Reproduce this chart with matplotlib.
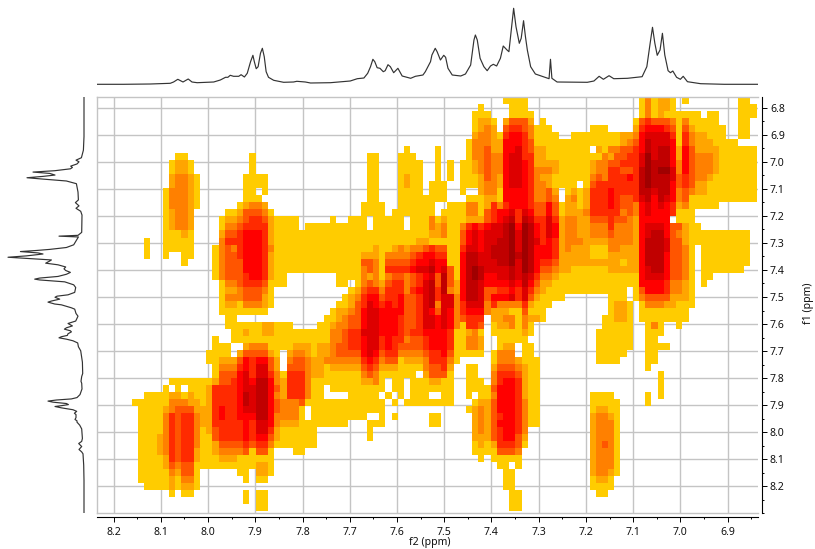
import numpy as np
import matplotlib
matplotlib.use("Agg")
import matplotlib.pyplot as plt
from matplotlib.colors import ListedColormap, BoundaryNorm
from matplotlib.ticker import MultipleLocator, FormatStrFormatter

plt.rcParams['font.family'] = ['Noto Sans', 'DejaVu Sans']

# 1D projection: chemical shift (ppm), height
proj_ppm = [8.30, 8.235, 8.179, 8.122, 8.080, 8.073, 8.064, 8.053, 8.042, 8.034, 8.023, 7.988, 7.974, 7.963, 7.958, 7.953,
            7.946, 7.935, 7.930, 7.923, 7.917, 7.910, 7.905, 7.902, 7.898, 7.894, 7.889, 7.885, 7.881, 7.877, 7.872, 7.861,
            7.840, 7.819, 7.812, 7.794, 7.783, 7.741, 7.699, 7.684, 7.670, 7.662, 7.656, 7.651, 7.647, 7.642, 7.636, 7.629,
            7.625, 7.619, 7.614, 7.607, 7.598, 7.589, 7.571, 7.561, 7.545, 7.540, 7.529, 7.526, 7.519, 7.515, 7.508, 7.501,
            7.497, 7.492, 7.483, 7.465, 7.455, 7.444, 7.437, 7.434, 7.430, 7.424, 7.416, 7.409, 7.402, 7.396, 7.389, 7.381,
            7.375, 7.367, 7.363, 7.358, 7.353, 7.348, 7.341, 7.337, 7.332, 7.328, 7.324, 7.317, 7.307, 7.278, 7.275, 7.272,
            7.261, 7.197, 7.183, 7.172, 7.163, 7.151, 7.141, 7.112, 7.081, 7.071, 7.064, 7.059, 7.054, 7.049, 7.043, 7.038,
            7.033, 7.026, 7.021, 7.016, 7.008, 7.000, 6.994, 6.985, 6.957, 6.907, 6.833, 6.76]
proj_height = [0, 0, 0, 0.3, 1, 2.3, 5, 2.3, 5.3, 2.3, 1.6, 2.3, 4.3, 7, 7, 9,
               8, 8, 9.6, 7.3, 11, 22.6, 29, 22.6, 15.6, 17.6, 31, 36, 27.6, 12.6, 7, 4,
               2, 2.3, 3, 2.3, 1.3, 1.6, 3.3, 5.6, 6.3, 11, 17.6, 25, 22.6, 16.6, 16, 12.6,
               13.6, 19.6, 17.6, 11.6, 16, 8.3, 6, 8, 9.3, 12.6, 22.6, 29.3, 36, 32.6, 24.3, 29,
               27, 16, 9.3, 8.3, 10.3, 19.3, 44.3, 49.3, 44.3, 26, 17.6, 13.6, 18.3, 20, 18.3, 26,
               38.3, 34.3, 32.6, 54.3, 76, 57.6, 41, 46, 63.6, 47.6, 34.3, 17.6, 10.3, 5.6, 25, 6,
               2.3, 2, 3.3, 8, 5, 8.6, 5.6, 6, 7.6, 17.6, 41, 57, 41, 29, 34.3, 51,
               29.3, 13.6, 11.6, 13.3, 7, 5, 8, 2.6, 0.6, 0, 0, 0]

# 2D map, top row first: "column:level" switches along each row (0 = empty)
heat_rows = [
"66:1 70:0 88:1 89:3 90:1 91:2 93:1 94:0 95:1 96:0 104:1 106:0",
"62:1 63:0 67:1 70:0 88:1 89:3 90:1 91:2 93:1 94:0 104:1 107:0",
"61:1 64:0 67:1 71:0 88:1 89:3 90:1 91:2 92:1 98:0 99:1 101:0 104:1 107:0",
"61:1 62:2 64:1 65:0 66:2 67:4 70:2 71:0 72:1 73:0 87:1 88:4 89:5 90:4 93:3 94:1 95:3 96:1 101:0 104:1 106:0",
"61:1 62:2 63:3 64:2 65:0 66:4 67:5 69:4 70:3 71:1 74:0 80:1 83:0 87:2 88:5 89:6 92:5 93:4 94:1 95:4 96:2 97:1 102:0 104:1 106:0",
"61:2 62:3 64:2 65:1 66:5 67:6 69:5 70:3 71:1 75:0 77:1 85:2 87:3 88:6 89:7 93:5 94:1 95:5 96:3 97:2 99:1 102:0 104:1 106:0",
"60:1 61:3 64:2 66:6 69:5 70:4 71:1 85:2 86:3 87:4 88:6 89:8 90:7 93:6 94:1 95:5 96:3 97:2 100:1 104:0",
"50:1 51:0 55:1 56:0 60:1 61:3 63:4 64:2 66:6 68:7 69:5 70:4 71:2 73:1 80:0 81:2 82:1 83:3 85:4 87:5 88:6 89:8 90:7 91:8 93:6 94:2 95:6 96:4 97:2 101:1 107:0",
"13:1 15:0 25:1 26:0 44:1 46:0 49:1 52:0 55:1 56:0 60:1 61:3 63:4 64:3 66:6 67:7 69:5 71:2 73:1 82:3 83:2 84:4 86:5 88:7 89:9 90:7 91:8 93:6 94:2 95:6 96:4 97:3 100:2 101:1 107:0",
"12:1 13:2 15:1 16:0 25:1 26:0 44:1 46:0 49:1 53:0 55:1 56:0 57:1 58:0 59:1 61:2 62:3 63:4 64:3 66:6 67:7 69:6 70:5 71:2 75:1 80:2 81:3 83:4 85:5 88:7 89:9 90:8 93:6 94:3 95:6 96:4 97:3 100:2 101:1 107:0",
"12:1 13:2 15:1 16:0 25:1 26:0 44:1 46:0 49:1 53:0 55:1 56:0 57:1 58:0 59:1 61:2 62:3 63:4 64:3 66:6 67:7 69:6 70:5 71:3 74:2 75:1 80:2 81:3 83:5 85:4 87:5 88:8 89:9 90:8 91:9 93:7 94:3 95:6 96:4 97:3 100:2 101:1 107:0",
"12:2 13:3 15:2 16:1 17:0 24:1 28:0 44:1 46:0 49:1 50:2 51:1 53:0 55:1 56:0 57:1 58:0 59:1 62:2 63:4 64:3 65:2 66:6 67:7 69:6 70:5 71:3 72:2 74:1 80:3 81:4 82:3 83:5 86:6 87:5 88:8 89:9 90:8 93:7 94:4 95:5 96:4 97:3 99:2 100:1 107:0",
"12:2 13:3 15:2 16:1 17:0 24:1 28:0 44:1 46:0 49:1 50:2 51:1 53:0 54:1 57:0 59:1 62:2 63:3 65:2 66:6 67:7 69:6 70:5 71:3 73:2 74:1 78:0 79:1 80:4 81:5 88:8 89:9 90:8 93:6 94:4 95:5 96:4 97:2 99:1 107:0",
"11:1 12:3 15:2 16:1 17:0 24:1 26:0 27:1 28:0 44:1 46:0 49:1 53:0 54:1 57:0 59:1 60:0 62:2 63:3 65:1 66:6 70:5 71:3 73:4 74:2 75:0 76:1 77:2 78:1 79:2 80:5 83:6 84:5 88:8 90:7 91:8 93:6 94:3 95:4 96:3 97:2 99:1 107:0",
"11:1 12:3 15:2 16:1 17:0 24:1 27:0 44:1 46:0 49:1 57:0 60:1 63:2 65:1 66:6 70:5 71:3 73:4 74:3 75:0 76:2 77:3 78:1 79:2 80:5 83:6 84:5 85:4 87:5 88:7 89:8 90:6 91:8 92:7 93:6 94:3 95:4 96:1 107:0",
"11:1 12:3 15:2 16:1 17:0 23:1 24:2 25:3 27:2 28:0 43:1 47:0 49:1 55:0 57:1 60:3 62:1 63:2 64:5 65:3 66:5 67:6 70:5 71:4 73:6 74:4 75:1 76:2 78:1 79:2 80:5 83:6 84:5 85:4 87:3 88:6 89:7 90:6 91:7 92:6 93:5 94:2 95:3 96:1 101:0",
"11:1 12:2 13:3 15:2 16:0 21:1 23:2 24:4 27:3 28:1 29:0 43:1 47:0 48:1 55:0 56:1 60:3 62:1 63:4 64:5 65:6 67:7 68:5 69:7 70:6 71:4 73:6 74:4 75:1 76:2 79:3 80:5 85:3 86:4 87:3 88:6 89:7 90:6 93:5 94:1 97:0",
"11:1 12:2 13:3 15:2 16:0 20:1 21:2 23:3 24:4 25:5 27:4 28:2 29:1 33:0 38:1 39:0 41:1 44:0 45:1 50:0 51:1 54:3 55:1 56:2 57:1 60:2 63:4 64:5 65:6 66:7 67:8 68:5 69:8 70:7 71:5 73:7 74:5 75:2 76:3 78:2 80:4 83:5 84:4 86:3 87:2 88:6 93:0 94:1 97:0",
"11:1 12:2 13:3 15:2 16:0 20:1 21:3 23:4 24:5 27:5 28:2 29:1 33:0 34:1 44:0 45:1 50:0 51:1 54:3 55:2 56:3 57:1 59:3 60:5 61:6 62:5 63:6 64:7 66:8 67:9 68:6 69:9 70:8 71:6 72:5 73:7 74:6 75:2 76:3 78:2 80:3 83:5 84:3 87:2 88:6 89:7 92:6 93:4 95:2 96:1 98:0",
"11:1 14:2 15:1 16:0 20:2 21:4 23:5 24:6 27:5 28:2 29:1 54:2 56:3 57:1 59:4 60:6 61:7 62:6 63:7 66:8 67:9 68:7 69:9 70:8 71:6 72:5 73:7 74:6 75:2 76:3 78:2 80:3 83:4 84:3 87:2 88:6 89:7 90:8 92:6 93:4 94:3 95:2 96:1 106:0",
"8:1 9:0 11:1 16:0 20:3 21:5 24:6 27:5 28:2 29:1 52:2 54:1 59:4 60:6 61:7 62:6 63:7 65:8 67:9 68:7 69:9 70:8 71:7 72:5 73:6 74:5 75:2 76:3 79:2 83:3 87:2 88:6 89:8 92:7 93:4 95:2 96:1 106:0",
"8:1 9:0 11:1 16:0 19:1 20:3 21:4 22:3 23:5 24:6 27:5 28:3 29:1 45:2 46:1 48:2 49:3 50:2 51:3 53:4 54:5 55:4 57:1 59:5 60:7 62:6 63:7 64:8 67:9 68:7 69:9 70:8 71:6 74:5 75:2 76:3 77:2 80:1 83:3 85:2 88:6 89:8 92:7 93:4 95:3 96:1 97:0 98:1 106:0",
"8:1 9:0 11:1 12:0 14:1 16:0 19:1 20:3 21:4 23:5 24:6 27:5 28:2 29:1 43:2 46:1 47:3 51:4 52:5 53:6 55:5 57:1 59:6 60:8 62:7 64:8 67:9 68:8 69:9 70:8 71:6 74:5 75:2 80:1 83:2 88:6 89:8 92:6 93:4 95:3 96:1 97:0 98:1 106:0",
"14:1 15:0 19:1 20:3 21:4 24:6 27:5 28:2 29:1 43:4 45:3 46:1 47:4 51:5 52:6 54:7 55:6 57:1 59:6 60:8 62:7 65:8 67:9 68:7 69:9 70:8 71:6 72:5 74:4 75:2 85:1 86:2 88:6 89:8 92:6 93:4 95:3 96:1 97:0 98:1 106:0",
"19:1 20:3 21:4 24:6 27:5 28:2 29:1 43:3 44:4 45:3 46:1 47:5 51:6 52:7 54:8 55:6 56:7 57:4 58:1 59:6 60:8 61:9 62:8 63:7 67:8 68:7 69:9 70:8 71:6 72:4 74:3 75:2 77:1 83:2 88:6 89:7 90:8 92:6 93:4 95:3 96:1 97:0 98:1 105:0",
"19:1 20:3 21:4 24:5 25:6 27:5 28:2 29:1 31:0 39:1 43:3 44:2 45:3 46:1 47:3 48:4 50:3 51:4 52:5 53:6 54:7 55:4 56:8 57:4 58:1 59:6 60:8 61:9 62:8 63:6 65:7 67:8 68:7 69:8 70:7 71:5 72:3 74:2 75:1 88:6 89:7 92:6 93:4 95:3 96:1 97:0 98:1 100:0",
"20:1 21:3 23:4 24:5 27:4 28:1 31:0 39:1 41:0 42:1 43:3 44:4 45:3 46:2 47:4 48:5 50:3 51:4 52:5 53:7 54:8 55:4 56:8 57:4 58:2 59:6 60:8 62:7 63:6 67:7 68:6 69:8 70:6 71:4 72:2 74:1 88:6 92:5 93:3 95:2 96:1 97:0 98:1 99:0",
"20:1 21:2 23:3 24:4 27:3 28:1 29:0 41:1 42:2 43:4 44:5 46:3 47:5 50:3 51:5 52:6 53:7 54:8 55:5 56:8 57:3 58:2 59:6 60:8 62:7 63:4 65:5 67:6 68:5 69:7 70:5 71:3 72:2 73:1 86:0 87:1 88:4 89:6 92:5 93:3 95:2 96:1 97:0",
"20:1 21:3 24:4 27:2 28:1 29:0 40:1 41:2 42:3 43:5 44:6 46:4 47:5 49:6 50:4 52:5 53:7 54:8 55:5 56:7 58:3 59:6 60:8 62:7 63:4 64:6 67:7 68:5 69:7 70:4 71:2 72:1 76:0 83:1 86:0 87:1 88:3 89:4 93:2 96:1 97:0",
"20:1 21:2 23:1 24:3 27:2 28:1 29:0 39:1 41:2 42:4 43:5 44:7 45:6 46:5 47:6 48:5 49:6 50:4 52:5 53:7 54:8 55:3 56:7 58:3 59:5 60:7 63:3 64:5 65:3 69:5 70:2 71:1 74:0 83:1 84:2 86:1 87:0 88:1 89:3 92:2 94:1 97:0",
"20:1 28:0 38:1 39:2 41:3 42:4 43:6 44:7 46:6 50:4 52:5 53:7 54:6 55:4 56:7 57:6 58:3 59:5 60:6 63:3 64:2 67:1 69:4 70:1 73:0 83:1 84:2 86:1 87:0 88:1 96:0",
"21:1 23:0 37:1 39:2 40:3 41:4 43:6 44:7 46:6 49:5 50:4 52:5 53:7 55:6 56:7 57:6 58:3 59:4 60:5 63:0 64:2 66:3 68:1 69:3 70:2 72:1 73:0 82:1 84:2 86:1 87:0 88:1 96:0",
"21:1 27:2 29:1 32:0 36:1 38:2 39:3 41:4 43:6 44:7 46:6 49:5 50:4 52:5 53:7 55:6 56:7 57:6 58:3 59:1 60:5 62:4 63:0 64:1 65:2 67:3 68:1 69:3 70:1 71:0 82:1 87:0 89:1 90:3 91:1 92:0 94:1 95:0",
"22:1 24:2 25:1 27:2 29:1 38:3 40:4 41:5 43:7 46:6 49:5 50:4 51:5 53:6 57:5 58:1 60:2 61:3 62:1 63:0 64:1 69:2 70:1 71:0 81:1 87:0 89:1 92:0",
"19:1 20:0 22:1 38:3 40:4 41:5 43:6 44:7 46:5 47:6 48:5 50:3 51:4 53:5 54:6 57:5 58:1 60:3 62:2 63:0 65:1 70:0 81:1 87:0 89:1 91:0",
"19:1 22:0 24:2 25:3 28:1 32:2 35:1 36:2 38:3 39:4 41:5 43:6 44:7 46:5 47:6 48:5 49:4 53:5 54:6 57:5 58:1 60:3 62:2 63:0 65:1 66:2 68:0 69:1 71:0 81:1 87:0 89:1 93:0",
"18:1 22:0 23:2 24:4 28:2 29:1 30:0 31:2 32:3 34:2 35:1 36:2 38:3 39:4 43:6 44:7 45:6 46:4 47:5 49:3 53:4 54:5 56:6 57:4 58:1 63:0 64:1 65:3 68:0 69:1 71:0 81:1 86:0 89:1 91:0",
"18:1 20:2 23:4 24:6 25:5 26:6 28:4 29:2 30:0 31:3 32:4 34:3 35:2 37:3 43:5 44:6 45:5 46:3 47:4 49:1 50:2 53:3 54:5 57:3 58:1 59:0 64:1 65:3 68:2 69:1 72:0 81:1 85:0 89:1 91:0",
"19:1 20:3 23:5 24:6 25:5 26:7 28:4 29:2 30:0 31:4 34:3 35:2 37:1 38:2 43:4 44:5 45:4 46:2 49:1 53:3 54:4 56:5 57:2 58:0 60:1 62:0 64:2 65:4 68:3 69:2 70:1 72:0 89:1 90:0",
"19:1 20:4 23:6 24:7 25:5 26:7 28:5 29:3 30:1 31:5 34:3 35:2 37:1 43:3 44:4 45:3 46:1 52:0 53:2 54:4 57:1 58:0 60:1 62:0 64:3 65:5 68:4 69:2 70:1 72:0 91:1 92:0",
"12:1 19:2 20:4 22:5 23:6 24:7 25:6 26:8 28:6 29:3 30:2 31:5 34:3 35:1 43:2 45:3 46:1 47:0 48:1 50:0 51:1 54:2 56:1 58:0 60:1 63:0 64:3 65:5 66:6 68:5 69:2 70:1 72:0 91:1 92:0",
"11:1 12:0 13:1 14:0 15:1 18:2 19:5 23:6 24:7 26:8 28:6 29:4 30:2 31:5 34:3 35:1 37:0 38:1 47:0 48:1 50:0 51:1 58:0 60:1 64:4 65:6 68:5 69:2 70:1 72:0 91:1 92:0",
"8:1 12:2 14:1 15:2 16:1 18:2 19:5 23:6 24:8 25:7 26:8 28:6 29:3 30:2 31:5 34:3 35:1 37:0 41:1 46:0 47:1 48:0 49:1 50:0 51:1 54:0 56:1 58:0 60:1 61:0 62:1 64:3 65:6 68:5 69:2 70:1 72:0 80:1 84:0 89:1 90:0 91:1 92:0",
"6:1 12:3 15:2 17:1 18:2 19:5 23:6 24:8 25:7 26:8 28:6 29:4 30:3 33:4 34:1 47:0 48:1 49:0 50:1 58:0 61:1 62:2 64:4 65:6 68:5 69:3 70:1 72:0 80:1 85:0 89:1 90:0",
"7:1 11:2 12:3 13:4 16:2 19:5 20:6 21:5 23:6 24:7 26:8 28:6 29:4 30:3 33:1 34:0 35:1 47:0 60:1 61:2 62:3 63:2 64:4 65:6 68:5 69:3 70:1 72:0 80:1 81:2 83:1 85:0",
"7:1 11:3 12:5 13:4 14:5 16:3 17:2 19:5 20:6 21:5 23:6 26:8 28:6 29:3 33:1 34:0 35:1 44:0 46:1 47:0 48:1 49:0 54:1 56:0 61:2 62:3 63:2 64:4 65:5 66:6 68:5 69:3 70:1 72:0 80:2 81:3 83:2 84:1 85:0",
"7:1 11:3 12:5 13:4 14:5 16:3 17:2 19:5 24:6 25:5 26:7 28:6 29:3 30:2 33:1 41:0 44:1 47:0 54:1 56:0 61:2 62:3 63:2 64:4 65:6 68:5 69:3 70:1 72:0 80:2 81:3 84:1 85:0",
"7:1 11:3 12:5 13:4 14:5 16:3 17:1 18:2 19:4 20:5 24:6 25:5 26:7 28:5 29:2 30:1 36:0 44:1 45:0 61:2 62:3 63:2 64:4 65:5 66:6 68:5 69:3 70:0 80:2 81:3 84:1 85:0",
"7:1 10:2 11:3 12:5 13:4 14:5 16:3 17:1 19:4 20:5 24:6 25:5 26:6 28:4 29:2 30:1 36:0 44:1 45:0 61:2 64:4 65:5 66:6 68:4 69:2 70:0 80:2 81:3 84:1 85:0",
"7:1 10:2 11:3 12:5 13:4 14:5 16:3 17:1 19:2 20:4 24:5 25:4 26:5 28:3 29:1 36:0 61:1 62:2 63:1 64:2 65:5 68:4 69:1 70:0 80:2 81:3 82:4 83:3 84:1 85:0",
"7:1 10:2 11:3 12:5 13:4 14:5 16:2 17:1 19:2 20:3 24:4 25:1 26:4 28:1 29:0 32:1 34:0 61:1 65:4 68:3 69:0 80:2 81:3 84:1 85:0",
"7:1 11:2 12:5 13:4 14:5 16:2 17:1 20:2 23:1 29:0 62:1 63:0 64:1 69:0 80:2 81:3 84:1 85:0",
"7:1 11:2 12:4 13:3 14:4 16:1 26:2 28:1 29:0 65:1 67:0 68:1 69:0 80:2 81:3 84:1 85:0",
"7:1 12:3 13:2 14:4 16:1 17:0 23:1 25:0 26:2 28:1 29:0 66:1 68:0 80:2 81:3 83:2 84:1 85:0",
"7:1 12:2 13:1 14:3 16:1 17:0 24:1 25:0 26:1 28:0 66:1 68:0 80:1 81:2 83:1 84:0",
"8:1 12:2 13:1 14:2 16:1 17:0 66:1 68:0 80:1 84:0",
"12:1 13:0 14:1 16:0 24:1 25:0 26:1 28:0 67:1 69:0 81:1 83:0",
"24:1 25:0 26:1 28:0 67:1 69:0",
"26:1 28:0 67:1 69:0",
"",
]
level_colors = ['#FFCC00', '#FFA500', '#FF8000', '#FF5500', '#FF2A00', '#FF0000', '#DD0000', '#C00000', '#A00000']
x_ticks = [8.2, 8.1, 8.0, 7.9, 7.8, 7.7, 7.6, 7.5, 7.4, 7.3, 7.2, 7.1, 7.0, 6.9]
y_ticks = [6.8, 6.9, 7.0, 7.1, 7.2, 7.3, 7.4, 7.5, 7.6, 7.7, 7.8, 7.9, 8.0, 8.1, 8.2]

W, H = 815, 549
L, R, T, B = 97.0, 758.3, 97.3, 513.3
n_cols = 108
Z = np.zeros((len(heat_rows), n_cols))
for r, row in enumerate(heat_rows):
    sw = sorted((int(a), int(b)) for a, b in (s.split(':') for s in row.split()))
    for i, (c, lev) in enumerate(sw):
        end = sw[i + 1][0] if i + 1 < len(sw) else n_cols
        Z[r, c:end] = lev
Z = np.ma.masked_equal(Z, 0)

x_left, x_right = 8.2351, 6.835
y_top, y_bot = 6.7615, 8.30
x_edges = 8.2397 - 0.013093 * np.arange(n_cols + 1)
y_edges = y_top + (7 / 270) * np.arange(len(heat_rows) + 1)

fig = plt.figure(figsize=(W / 100, H / 100), dpi=100, facecolor='white')
def pos(x0, x1, y0, y1):
    return [x0 / W, 1 - y1 / H, (x1 - x0) / W, (y1 - y0) / H]

ax = fig.add_axes(pos(L, R, T, B))
cmap = ListedColormap(level_colors)
norm = BoundaryNorm(np.arange(0.5, 10.5), cmap.N)
ax.pcolormesh(x_edges, y_edges, Z, cmap=cmap, norm=norm, antialiased=False, linewidth=0, zorder=2)
ax.set_xlim(x_left, x_right)
ax.set_ylim(y_bot, y_top)
ax.xaxis.set_minor_locator(MultipleLocator(0.05))
ax.yaxis.set_minor_locator(MultipleLocator(0.05))
ax.set_xticks(x_ticks)
ax.set_yticks(y_ticks)
ax.xaxis.set_major_formatter(FormatStrFormatter('%.1f'))
ax.yaxis.set_major_formatter(FormatStrFormatter('%.1f'))
ax.grid(True, which='major', color='#C4C4C4', lw=1.0, zorder=1)
ax.set_axisbelow(True)
ax.yaxis.tick_right()
ax.tick_params(axis='both', which='major', length=3.6, width=0.7, color='black', labelsize=7.6, labelcolor='#111111')
ax.tick_params(axis='both', which='minor', length=1.6, width=0.7, color='black')
ax.tick_params(axis='x', which='major', pad=3.5)
ax.tick_params(axis='y', which='major', pad=2.0)
for s in ['left', 'top']:
    ax.spines[s].set_visible(True)
    ax.spines[s].set_color('#C4C4C4')
    ax.spines[s].set_linewidth(1.0)
ax.spines['bottom'].set_position(('outward', 2.8))
ax.spines['right'].set_position(('outward', 2.8))
ax.spines['bottom'].set_linewidth(0.8)
ax.spines['right'].set_linewidth(0.8)
ax.axhline(y_bot, color='#C4C4C4', lw=1.0, clip_on=False, zorder=1)

ax_top = fig.add_axes(pos(L, R, 0, 97))
ax_top.plot(proj_ppm, proj_height, color='#333333', lw=0.85)
ax_top.set_xlim(x_left, x_right)
ax_top.set_ylim(-12.7, 84.3)
ax_top.axis('off')

ax_left = fig.add_axes(pos(0, 97, T, B))
ax_left.plot(proj_height, proj_ppm, color='#333333', lw=0.85)
ax_left.set_xlim(84, -13)
ax_left.set_ylim(y_bot, y_top)
ax_left.axis('off')

fig.text(429.5 / W, 1 - 543 / H, 'f2 (ppm)', ha='center', va='center', fontsize=7.6, color='#111111')
fig.text(808 / W, 1 - 303 / H, 'f1 (ppm)', ha='center', va='center', rotation=90, fontsize=7.6, color='#111111')

fig.savefig('out.png', dpi=100, facecolor='white')
